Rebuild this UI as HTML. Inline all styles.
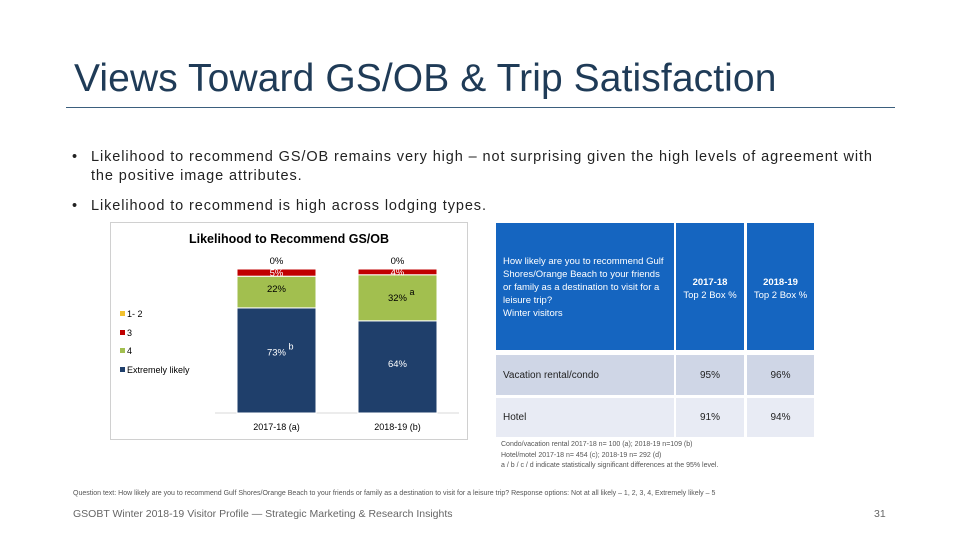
<!DOCTYPE html>
<html><head><meta charset="utf-8">
<style>
body{margin:0;width:960px;height:540px;background:#fff;font-family:"Liberation Sans",sans-serif;position:relative;overflow:hidden;color:#222}
.abs{position:absolute}
#title{left:74px;top:57px;font-size:39px;color:#1f3b57;white-space:nowrap;letter-spacing:0.1px}
#rule{left:66px;top:107px;width:829px;height:1px;background:#3b5f7d}
.bullet{left:72px;font-size:14.5px;line-height:19px;width:840px;letter-spacing:0.9px;white-space:nowrap}
.bullet span{position:absolute;left:0}
.bullet div{margin-left:19px}
#chartbox{left:110px;top:222px;width:358px;height:218px;border:1px solid #d0d0d0;box-sizing:border-box}
.th{background:#1565c0;color:#fff;font-size:9.5px;line-height:13px;box-sizing:border-box}
.td{font-size:10px;box-sizing:border-box;display:flex;align-items:center}
.note{font-size:7px;color:#555;line-height:10.5px}
</style></head><body>
<div id="title" class="abs">Views Toward GS/OB &amp; Trip Satisfaction</div>
<div id="rule" class="abs"></div>
<div class="abs bullet" style="top:148px"><span>•</span><div>Likelihood to recommend GS/OB remains very high – not surprising given the high levels of agreement with<br>the positive image attributes.</div></div>
<div class="abs bullet" style="top:197px"><span>•</span><div>Likelihood to recommend is high across lodging types.</div></div>

<div id="chartbox" class="abs"></div>
<svg class="abs" style="left:0;top:0" width="960" height="540" id="chart">
<text x="289" y="243" text-anchor="middle" font-size="12.5" font-weight="bold" fill="#000">Likelihood to Recommend GS/OB</text>
<line x1="215" y1="413" x2="459" y2="413" stroke="#d9d9d9"/>
</svg>
<script>
const categories=["2017-18 (a)","2018-19 (b)"];
const seriesNames=["Extremely likely","4","3","1- 2"];
const extremely=[73,64];
const four=[22,32];
const three=[5,4];
const oneTwo=[0,0];
const sigExtremely=["b",""];
const sigFour=["","a"];
const colors=["#1f3f6b","#a2bf4f","#c00000","#f2c12e"];
const svg=document.getElementById('chart');
const NS="http://www.w3.org/2000/svg";
const base=413, scale=1.44, barW=79;
const xs=i=>237+i*121;
const y=v=>base-v*scale;
function mk(tag,attrs){const e=document.createElementNS(NS,tag);for(const k in attrs)e.setAttribute(k,attrs[k]);svg.appendChild(e);return e;}
const series=[extremely,four,three,oneTwo];
const sigs=[sigExtremely,sigFour,null,null];
categories.forEach((c,i)=>{
  let cum=0;
  series.forEach((s,j)=>{
    const v=s[i];
    const r=mk('rect',{x:xs(i),y:y(cum+v),width:barW,height:v*scale,fill:colors[j],stroke:'#fff','stroke-width':1});
    
    
    let ty;
    if(j==3) ty=y(cum+v)-5;
    else if(j==2) ty=y(cum+v/2)+3.5;
    else ty=y(cum+v/2)+(j==0&&i==0?-5:0)+(j==1&&i==1?3:0);
    const t=mk('text',{x:xs(i)+barW/2,y:ty,'text-anchor':'middle','font-size':9.5,fill:(j==0||j==2)?'#fff':'#000'});
    t.textContent=v+'%';
    
    
    if(sigs[j]&&sigs[j][i]){
      const st=mk('text',{x:xs(i)+barW/2+12,y:ty-6,'font-size':9,fill:(j==0)?'#fff':'#000'});
      st.textContent=sigs[j][i];
      
      
    }
    cum+=v;
  });
  const lt=mk('text',{x:xs(i)+barW/2,y:430,'text-anchor':'middle','font-size':9,fill:'#000'});
  lt.textContent=c;
  
  
});
const legY=[316,335,353,372];
["1- 2","3","4","Extremely likely"].forEach((n,k)=>{
  const ci=[3,2,1,0][k];
  const r=mk('rect',{x:120,y:legY[k]-5,width:5,height:5,fill:colors[ci]});
  
  
  const t=mk('text',{x:127,y:legY[k]+1,'font-size':9,fill:'#000'});
  t.textContent=n;
  
  
});
</script>

<div class="abs th" style="left:496px;top:223px;width:178px;height:127px;padding:32px 6px 0 7px">How likely are you to recommend Gulf Shores/Orange Beach to your friends or family as a destination to visit for a leisure trip?<br>Winter visitors</div>
<div class="abs th" style="left:676px;top:223px;width:68px;height:127px;padding-top:53px;text-align:center"><b>2017-18</b><br>Top 2 Box %</div>
<div class="abs th" style="left:747px;top:223px;width:67px;height:127px;padding-top:53px;text-align:center"><b>2018-19</b><br>Top 2 Box %</div>
<div class="abs td" style="left:496px;top:355px;width:178px;height:40px;background:#cfd6e6;padding-left:7px">Vacation rental/condo</div>
<div class="abs td" style="left:676px;top:355px;width:68px;height:40px;background:#cfd6e6;justify-content:center">95%</div>
<div class="abs td" style="left:747px;top:355px;width:67px;height:40px;background:#cfd6e6;justify-content:center">96%</div>
<div class="abs td" style="left:496px;top:398px;width:178px;height:39px;background:#e8ebf4;padding-left:7px">Hotel</div>
<div class="abs td" style="left:676px;top:398px;width:68px;height:39px;background:#e8ebf4;justify-content:center">91%</div>
<div class="abs td" style="left:747px;top:398px;width:67px;height:39px;background:#e8ebf4;justify-content:center">94%</div>
<div class="abs note" style="left:501px;top:440px;width:330px">Condo/vacation rental 2017-18 n= 100 (a); 2018-19 n=109 (b)<br>Hotel/motel 2017-18 n= 454 (c); 2018-19 n= 292 (d)<br>a / b / c / d indicate statistically significant differences at the 95% level.</div>
<div class="abs note" style="left:73px;top:489px;width:820px;white-space:nowrap">Question text: How likely are you to recommend Gulf Shores/Orange Beach to your friends or family as a destination to visit for a leisure trip? Response options: Not at all likely – 1, 2, 3, 4, Extremely likely – 5</div>
<div class="abs" style="left:73px;top:508px;font-size:10.5px;color:#666;white-space:nowrap">GSOBT Winter 2018-19 Visitor Profile — Strategic Marketing &amp; Research Insights</div>
<div class="abs" style="left:874px;top:508px;font-size:10.5px;color:#666">31</div>
</body></html>
